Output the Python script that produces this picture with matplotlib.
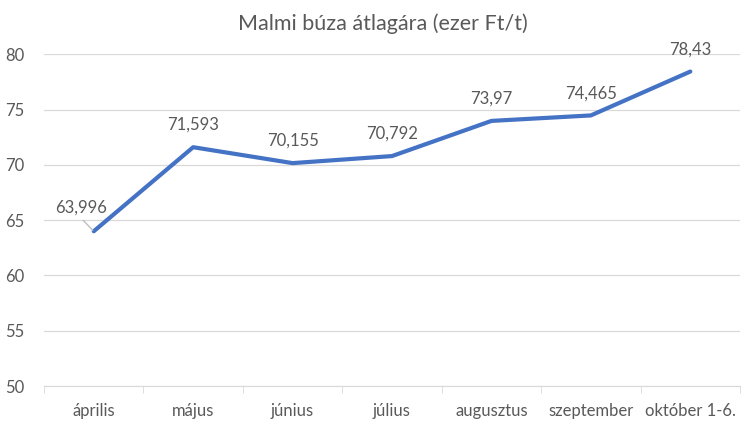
import matplotlib
matplotlib.use("Agg")
import matplotlib.pyplot as plt

categories = ["április", "május", "június", "július", "augusztus", "szeptember", "október 1-6."]
values = [63.996, 71.593, 70.155, 70.792, 73.97, 74.465, 78.43]
labels = ["63,996", "71,593", "70,155", "70,792", "73,97", "74,465", "78,43"]
yticks = [50, 55, 60, 65, 70, 75, 80]

plt.rcParams['font.family'] = ['Lato', 'DejaVu Sans']
txt = '#595959'

fig = plt.figure(figsize=(7.5, 4.3), dpi=100)
ax = fig.add_axes([0.0587, 0.102, 0.928, 0.772])
x = list(range(len(categories)))
ax.plot(x, values, color='#4472C4', lw=3, solid_capstyle='round', solid_joinstyle='round', zorder=3)
ax.set_xlim(-0.5, len(categories) - 0.5)
ax.set_ylim(50, 80)
ax.set_yticks(yticks)
ax.set_yticklabels([str(v) for v in yticks])
ax.set_xticks(x)
ax.set_xticklabels(categories)
ax.yaxis.grid(True, color='#D9D9D9', lw=0.9)
ax.set_axisbelow(True)
for s in ['top', 'right', 'left']:
    ax.spines[s].set_visible(False)
ax.spines['bottom'].set_color('#D9D9D9')
ax.tick_params(axis='y', length=0, pad=14, labelsize=12, labelcolor=txt)
ax.tick_params(axis='x', length=0, pad=12, labelsize=12, labelcolor=txt)
ax.set_xticks([i - 0.5 for i in range(len(categories) + 1)], minor=True)
ax.tick_params(axis='x', which='minor', length=5, color='#D9D9D9')

for i, (v, lab) in enumerate(zip(values, labels)):
    if i == 0:
        ax.annotate(lab, xy=(i, v), xytext=(-9, 17), textcoords='offset points',
                    ha='center', va='center', fontsize=12, color=txt,
                    arrowprops=dict(arrowstyle='-', color='#BFBFBF', lw=1.0,
                                    relpos=(0.45, 0.0), shrinkA=2, shrinkB=1))
    else:
        ax.annotate(lab, xy=(i, v), xytext=(0, 16), textcoords='offset points',
                    ha='center', va='center', fontsize=12, color=txt)

fig.suptitle("Malmi búza átlagára (ezer Ft/t)", x=0.51, y=0.968, fontsize=15.5, color=txt)
fig.savefig("out.png", dpi=100, facecolor='white')
